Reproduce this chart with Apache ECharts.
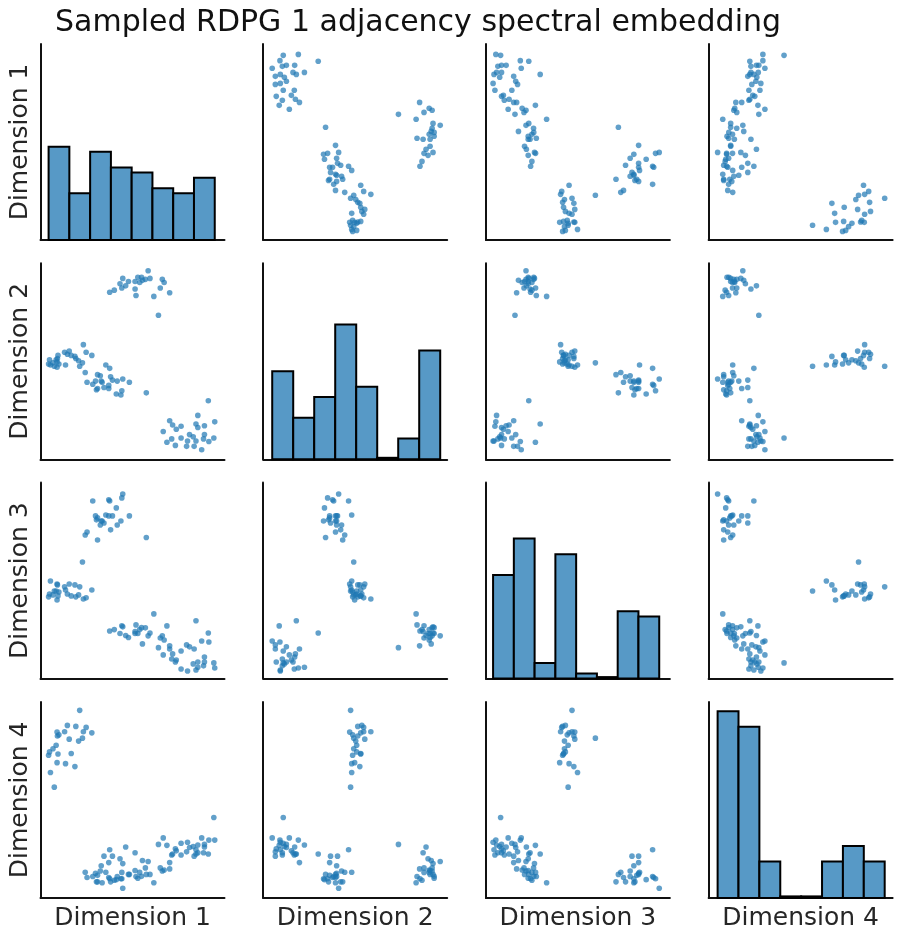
<!DOCTYPE html>
<html><head><meta charset="utf-8">
<script src="https://cdn.jsdelivr.net/npm/echarts@6/dist/echarts.min.js"></script>
<style>html,body{margin:0;padding:0;background:#fff}#chart{width:902px;height:937px}</style>
</head><body><div id="chart"></div>
<script>
const titleText = 'Sampled RDPG 1 adjacency spectral embedding';
const dimNames = ['Dimension 1', 'Dimension 2', 'Dimension 3', 'Dimension 4'];

// Embedding coordinates (normalised to each axis), grouped by visible cluster
const dim1 = [
  0.947,0.942,0.915,0.912,0.891,0.891,0.886,0.876,0.855,0.855,0.845,0.845,0.835,0.830,0.810,0.799,0.794,0.764,0.764,0.738,0.733,0.718,0.713,0.702,0.687,0.667,
  0.702,0.672,0.662,0.651,0.641,0.616,0.595,0.585,0.570,0.554,0.549,0.539,0.529,0.519,0.514,0.514,0.478,0.463,0.447,0.442,0.432,0.401,0.376,
  0.575,0.483,0.447,0.437,0.442,0.417,0.412,0.391,0.381,0.376,0.371,0.371,0.355,0.345,0.335,0.330,0.325,0.310,0.304,0.299,0.284,0.310,0.253,0.243,
  0.044,0.049,0.054,0.068,0.075,0.085,0.090,0.090,0.092,0.095,0.100,0.131,0.136,0.146,0.156,0.167,0.187,0.192,0.207,0.213,0.228,0.233,0.248,0.279
];
const dim2 = [
  0.191,0.109,0.091,0.299,0.126,0.171,0.104,0.049,0.224,0.162,0.180,0.093,0.066,0.115,0.126,0.093,0.066,0.109,0.169,0.153,0.071,0.175,0.104,0.197,0.087,0.142,
  0.850,0.902,0.918,0.874,0.735,0.831,0.923,0.962,0.918,0.913,0.929,0.902,0.929,0.836,0.869,0.907,0.907,0.885,0.923,0.874,0.896,0.863,0.852,
  0.339,0.393,0.410,0.328,0.350,0.399,0.333,0.404,0.421,0.464,0.361,0.377,0.481,0.366,0.393,0.399,0.426,0.361,0.355,0.399,0.383,0.432,0.393,0.443,
  0.486,0.508,0.481,0.492,0.475,0.508,0.470,0.497,0.514,0.530,0.486,0.546,0.481,0.536,0.552,0.530,0.525,0.514,0.503,0.475,0.492,0.585,0.546,0.530
];
const dim3 = [
  0.054,0.080,0.187,0.233,0.085,0.110,0.065,0.192,0.058,0.085,0.295,0.044,0.151,0.075,0.162,0.039,0.172,0.141,0.049,0.095,0.085,0.126,0.100,0.151,0.269,0.121,
  0.167,0.197,0.218,0.207,0.158,0.330,0.233,0.218,0.259,0.177,0.260,0.250,0.230,0.274,0.240,0.230,0.210,0.220,0.264,0.270,0.230,0.250,0.243,
  0.720,0.830,0.942,0.804,0.922,0.784,0.871,0.830,0.759,0.906,0.830,0.912,0.835,0.794,0.804,0.804,0.784,0.820,0.810,0.830,0.906,0.707,0.748,0.733,
  0.417,0.432,0.498,0.427,0.447,0.447,0.483,0.401,0.478,0.422,0.442,0.468,0.452,0.432,0.483,0.422,0.478,0.417,0.427,0.468,0.595,0.406,0.412,0.452
];
const dim4 = [
  0.295,0.410,0.295,0.224,0.273,0.260,0.230,0.306,0.270,0.230,0.224,0.246,0.213,0.262,0.257,0.284,0.235,0.279,0.219,0.240,0.251,0.224,0.219,0.180,0.268,0.306,
  0.148,0.142,0.137,0.153,0.273,0.077,0.120,0.186,0.153,0.191,0.110,0.130,0.100,0.109,0.230,0.140,0.120,0.260,0.175,0.130,0.200,0.090,0.098,
  0.120,0.120,0.049,0.098,0.098,0.109,0.093,0.213,0.082,0.246,0.180,0.104,0.131,0.213,0.077,0.164,0.137,0.115,0.082,0.126,0.109,0.082,0.104,0.131,
  0.728,0.745,0.640,0.761,0.565,0.779,0.846,0.690,0.826,0.734,0.832,0.848,0.685,0.880,0.810,0.737,0.670,0.875,0.800,0.957,0.815,0.848,0.870,0.842
];

// Histogram counts (8 bins each) on the diagonal
const hist1 = [18, 9, 17, 14, 13, 10, 9, 12];
const hist2 = [17, 8, 12, 26, 14, 0, 4, 21];
const hist3 = [20, 27, 3, 24, 1, 0, 13, 12];
const hist4 = [36, 33, 7, 0, 0, 7, 10, 7];

const dims = [dim1, dim2, dim3, dim4];
const hists = [hist1, hist2, hist3, hist4];

const chart = echarts.init(document.getElementById('chart'), null, { renderer: 'canvas' });
const FONT = 'DejaVu Sans';
const INK = '#262626';
const AXIS = '#111111';
const GL = 40.5, GT = 44, GW = 184, GH = 196, DX = 222.7, DY = 219.3;
const histMax = Math.max(...hists.flat()) * 1.05;

const grids = [], xAxes = [], yAxes = [], series = [];
for (let r = 0; r < 4; r++) {
  for (let c = 0; c < 4; c++) {
    const g = r * 4 + c;
    grids.push({ left: GL + c * DX, top: GT + r * DY, width: GW, height: GH });
    const line = { show: true, onZero: false, lineStyle: { color: AXIS, width: 2 } };
    const xa = { gridIndex: g, type: 'value', min: 0, max: 1, axisLine: line, z: 1,
      axisTick: { show: false }, axisLabel: { show: false }, splitLine: { show: false } };
    if (r === 3) {
      Object.assign(xa, { name: dimNames[c], nameLocation: 'middle', nameGap: 8,
        nameTextStyle: { fontFamily: FONT, fontSize: 25, color: INK, verticalAlign: 'top' } });
    }
    const ya = { gridIndex: g, type: 'value', min: 0, max: r === c ? histMax : 1, axisLine: line, z: 1,
      axisTick: { show: false }, axisLabel: { show: false }, splitLine: { show: false } };
    if (c === 0) {
      Object.assign(ya, { name: dimNames[r], nameLocation: 'middle', nameGap: 8, nameRotate: 90,
        nameTextStyle: { fontFamily: FONT, fontSize: 25, color: INK, verticalAlign: 'bottom' } });
    }
    xAxes.push(xa); yAxes.push(ya);

    if (r === c) {
      const vals = dims[c];
      const lo = Math.min(...vals), hi = Math.max(...vals);
      const w = (hi - lo) / hists[c].length;
      const data = hists[c].map((n, k) => [lo + k * w, lo + (k + 1) * w, n]);
      series.push({
        type: 'custom', xAxisIndex: g, yAxisIndex: g, data: data, clip: false, z: 5,
        renderItem: function (params, api) {
          const p0 = api.coord([api.value(0), 0]);
          const p1 = api.coord([api.value(1), api.value(2)]);
          const h = Math.max(p0[1] - p1[1], 1.5);
          return { type: 'rect',
            shape: { x: p0[0], y: p0[1] - h, width: p1[0] - p0[0], height: h },
            style: { fill: '#5799C6', stroke: '#000', lineWidth: 2 } };
        }
      });
    } else {
      const xs = dims[c], ys = dims[r];
      series.push({
        type: 'scatter', xAxisIndex: g, yAxisIndex: g, z: 3,
        data: xs.map((v, i) => [v, ys[i]]),
        symbol: 'circle', symbolSize: 5.6,
        itemStyle: { color: '#1f77b4', opacity: 0.7 },
        emphasis: { disabled: true }
      });
    }
  }
}

chart.setOption({
  animation: false,
  backgroundColor: '#fff',
  title: { text: titleText, left: 50, top: 3,
    textStyle: { fontFamily: FONT, fontSize: 30, fontWeight: 'normal', color: '#111' } },
  grid: grids, xAxis: xAxes, yAxis: yAxes, series: series
});
</script>
</body></html>
